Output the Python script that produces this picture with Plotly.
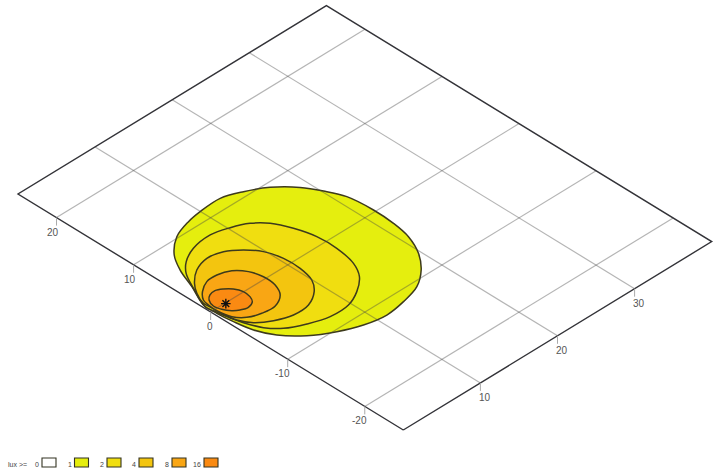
import plotly.graph_objects as go

# plane coordinates: along = right-hand axis (0..40), across = left-hand axis (-25..25)
along_ticks = [10, 20, 30]
across_ticks = [-20, -10, 0, 10, 20]
along_range = [0, 40]
across_range = [-25, 25]

level1_along = [0.28,1.47,2.47,3.68,5.79,8.14,9.96,12.67,14.89,17.08,19.02,20.16,21.07,21.39,21.27,20.83,19.72,18.12,16.07,13.62,11.12,8.55,6.11,3.74,1.86,0.88,0.46,0.26]
level1_across = [1.21,3.91,6.43,8.41,10.18,11.02,11.33,11.44,10.64,9.37,7.42,5.52,3.41,0.27,-2.45,-4.83,-7.24,-9.19,-10.68,-11.4,-11.74,-11.28,-10.26,-8.74,-6.73,-4.69,-2.51,-0.54]
level2_along = [0.21,1.4,2.51,3.75,5.63,8.14,10.21,11.96,13.27,14.25,14.88,14.94,14.43,13.41,11.65,9.69,7.27,4.98,3.0,1.78,1.0,0.56,0.32]
level2_across = [0.93,3.62,5.69,6.92,7.87,8.2,7.68,6.85,5.55,3.51,1.11,-1.42,-4.1,-5.89,-7.31,-8.19,-8.24,-7.51,-6.46,-5.09,-3.26,-1.54,-0.05]
level3_along = [0.45,1.08,1.99,3.55,5.44,7.23,8.71,9.83,10.42,10.44,9.96,8.88,7.09,5.06,3.16,1.65,0.85,0.55,0.49]
level3_across = [1.39,2.87,4.09,5.35,5.94,5.57,4.45,2.98,0.97,-1.17,-3.16,-4.55,-5.6,-5.69,-5.0,-3.91,-2.54,-0.69,0.78]
level4_along = [0.8,1.63,2.97,4.32,5.75,6.74,7.17,7.05,6.32,4.83,3.18,1.78,0.88,0.55,0.6]
level4_across = [1.74,2.69,3.47,3.52,3.01,1.83,0.32,-1.32,-2.7,-3.55,-3.45,-2.91,-1.87,-0.26,0.88]
level5_along = [1.17,1.76,2.54,3.26,3.91,4.28,4.18,3.8,2.94,2.12,1.51,1.0,0.81]
level5_across = [1.38,1.85,1.98,1.62,0.97,0.04,-0.92,-1.61,-1.95,-1.69,-1.22,-0.43,0.46]
star_along = [1.87]
star_across = [-0.1]

legend_title = "lux >="
legend_labels = ["0", "1", "2", "4", "8", "16"]
legend_colors = ["#ffffff", "#e5ee0e", "#f0de10", "#f3c50f", "#f9a614", "#fa8a12"]


def project(a, c):
    return 210.65 + 7.71 * a - 7.706 * c, 312 - 4.71 * a - 4.72 * c


def line_trace(a_list, c_list, **kw):
    pts = [project(a, c) for a, c in zip(a_list, c_list)]
    return go.Scatter(x=[p[0] for p in pts], y=[p[1] for p in pts], hoverinfo="skip", **kw)


fig = go.Figure()

levels = [(level1_along, level1_across, legend_colors[1]),
          (level2_along, level2_across, legend_colors[2]),
          (level3_along, level3_across, legend_colors[3]),
          (level4_along, level4_across, legend_colors[4]),
          (level5_along, level5_across, legend_colors[5])]
for a, c, col in levels:
    fig.add_trace(line_trace(a + a[:1], c + c[:1], mode="lines", fill="toself", fillcolor=col,
                             line=dict(color="#3d3a1c", width=1.5, shape="spline", smoothing=1.0)))

grid = dict(mode="lines", line=dict(color="rgba(70,70,70,0.4)", width=1.2))
for t in along_ticks:
    fig.add_trace(line_trace([t, t], across_range, **grid))
for t in across_ticks:
    fig.add_trace(line_trace(along_range, [t, t], **grid))

frame_a = [0, 40, 40, 0, 0]
frame_c = [-25, -25, 25, 25, -25]
fig.add_trace(line_trace(frame_a, frame_c, mode="lines", line=dict(color="#333338", width=1.4)))

fig.add_trace(line_trace(star_along, star_across, mode="markers",
                         marker=dict(symbol="asterisk", size=8, color="#111", line=dict(color="#111", width=1.4))))

tick_font = dict(family="Liberation Sans", size=10, color="#555555")
for t in across_ticks:
    x, y = project(0, t)
    fig.add_shape(type="line", x0=x, x1=x, y0=y, y1=y + 8, line=dict(color="#aaaaaa", width=1))
    fig.add_annotation(x=x + 4.5, y=y + 14.5, text=str(t), showarrow=False, xanchor="right", font=tick_font)
for t in along_ticks:
    x, y = project(t, -25)
    fig.add_shape(type="line", x0=x, x1=x, y0=y, y1=y + 8, line=dict(color="#aaaaaa", width=1))
    fig.add_annotation(x=x + 4.5, y=y + 15, text=str(t), showarrow=False, font=tick_font)

# legend
legend_font = dict(family="Liberation Sans", size=7, color="#444444")
fig.add_annotation(x=17, y=464, text=legend_title, showarrow=False, font=legend_font)
box_left = [42, 74.5, 107, 139, 172, 204]
for left, lab, col in zip(box_left, legend_labels, legend_colors):
    fig.add_shape(type="rect", x0=left, x1=left + 14, y0=458, y1=467, fillcolor=col,
                  line=dict(color="#333322", width=1.1))
    fig.add_annotation(x=left - 1, y=464, text=lab, showarrow=False, xanchor="right", font=legend_font)

fig.update_layout(
    width=720, height=476, autosize=False, showlegend=False,
    margin=dict(l=0, r=0, t=0, b=0),
    paper_bgcolor="white", plot_bgcolor="white",
    xaxis=dict(range=[0, 720], visible=False),
    yaxis=dict(range=[476, 0], visible=False),
)
fig.write_html("out.html", config=dict(displayModeBar=False),
               post_script="document.body.style.margin='0';document.body.style.overflow='hidden';")
